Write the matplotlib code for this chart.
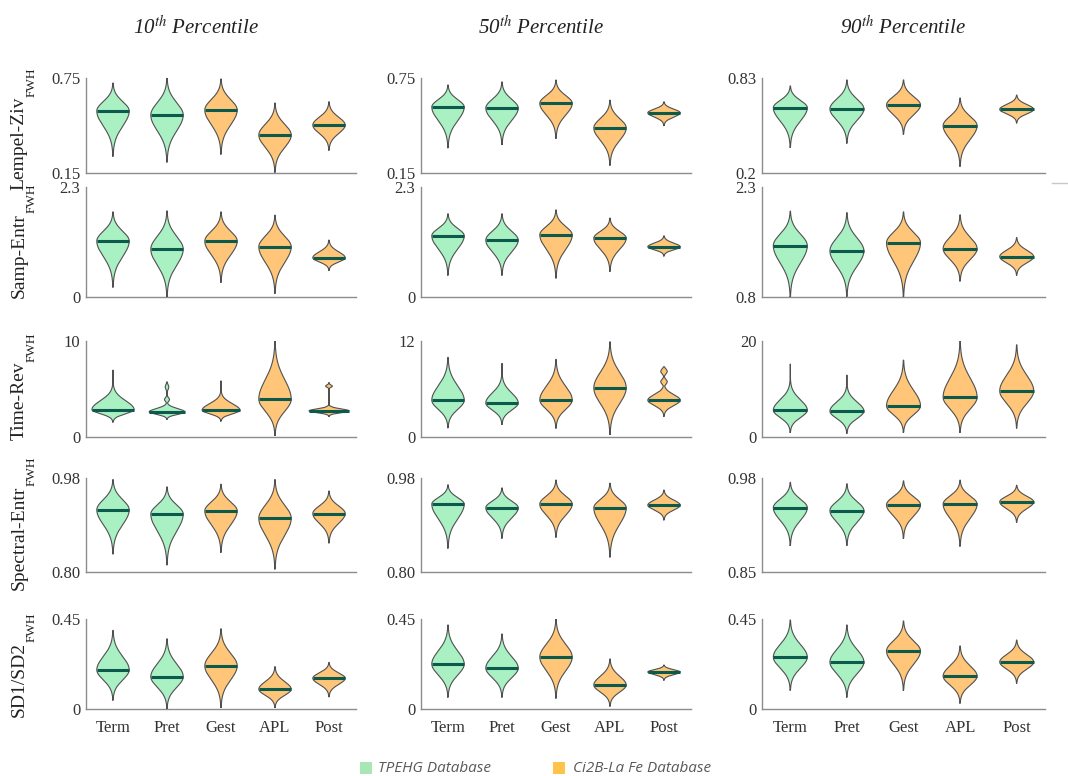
import numpy as np
import matplotlib
matplotlib.use("Agg")
import matplotlib.pyplot as plt
from matplotlib.patches import Rectangle
from matplotlib.lines import Line2D

plt.rcParams['font.family'] = ['Liberation Serif', 'DejaVu Serif']
plt.rcParams['mathtext.fontset'] = 'stix'

groups = ['Term', 'Pret', 'Gest', 'APL', 'Post']
percentiles = ['10', '50', '90']
metrics = ['Lempel-Ziv', 'Samp-Entr', 'Time-Rev', 'Spectral-Entr', 'SD1/SD2']

# y-axis range per metric and percentile (bottom, top), as printed
lz_range = [('0.15', '0.75'), ('0.15', '0.75'), ('0.2', '0.83')]
se_range = [('0', '2.3'), ('0', '2.3'), ('0.8', '2.3')]
tr_range = [('0', '10'), ('0', '12'), ('0', '20')]
spe_range = [('0.80', '0.98'), ('0.80', '0.98'), ('0.85', '0.98')]
sd_range = [('0', '0.45'), ('0', '0.45'), ('0', '0.45')]

# violin extent (min / median / max) per percentile, groups in order
lz_min = [[0.257, 0.22, 0.27, 0.156, 0.295], [0.31, 0.33, 0.37, 0.20, 0.45], [0.372, 0.399, 0.459, 0.246, 0.533]]
lz_med = [[0.542, 0.516, 0.548, 0.39, 0.453], [0.567, 0.56, 0.59, 0.435, 0.53], [0.633, 0.626, 0.651, 0.514, 0.622]]
lz_max = [[0.718, 0.75, 0.744, 0.592, 0.60], [0.706, 0.725, 0.737, 0.61, 0.60], [0.777, 0.817, 0.817, 0.697, 0.717]]

se_min = [[0.21, 0.0, 0.31, 0.08, 0.56], [0.46, 0.46, 0.40, 0.54, 0.86], [0.80, 0.81, 0.80, 1.02, 1.10]]
se_med = [[1.17, 1.00, 1.17, 1.05, 0.82], [1.28, 1.19, 1.30, 1.23, 1.05], [1.50, 1.43, 1.54, 1.46, 1.35]]
se_max = [[1.78, 1.80, 1.78, 1.71, 1.19], [1.74, 1.74, 1.82, 1.65, 1.28], [1.97, 1.95, 1.96, 1.92, 1.61]]

tr_min = [[1.57, 1.85, 1.67, 0.17, 2.16], [1.17, 1.59, 1.13, 0.33, 2.6], [1.0, 0.8, 1.0, 1.0, 1.9]]
tr_med = [[2.86, 2.61, 2.79, 3.94, 2.72], [4.6, 4.26, 4.64, 6.15, 4.6], [5.6, 5.4, 6.5, 8.3, 9.6]]
tr_max = [[6.97, 5.75, 5.85, 10.0, 5.68], [9.95, 9.2, 9.7, 11.9, 8.78], [15.2, 12.9, 16.0, 20.0, 19.2]]

spe_min = [[0.835, 0.814, 0.838, 0.806, 0.856], [0.846, 0.865, 0.867, 0.829, 0.90], [0.887, 0.887, 0.897, 0.886, 0.919]]
spe_med = [[0.919, 0.911, 0.917, 0.903, 0.912], [0.93, 0.923, 0.93, 0.923, 0.928], [0.939, 0.935, 0.943, 0.944, 0.947]]
spe_max = [[0.977, 0.963, 0.968, 0.977, 0.955], [0.967, 0.961, 0.976, 0.97, 0.957], [0.974, 0.972, 0.976, 0.977, 0.970]]

sd_min = [[0.045, 0.003, 0.008, 0.008, 0.062], [0.06, 0.06, 0.055, 0.015, 0.145], [0.095, 0.06, 0.095, 0.03, 0.13]]
sd_med = [[0.196, 0.162, 0.216, 0.099, 0.154], [0.225, 0.205, 0.26, 0.12, 0.185], [0.26, 0.235, 0.29, 0.165, 0.235]]
sd_max = [[0.393, 0.351, 0.401, 0.212, 0.233], [0.42, 0.375, 0.45, 0.25, 0.22], [0.445, 0.42, 0.44, 0.315, 0.345]]

table = [
    (lz_range, lz_min, lz_med, lz_max),
    (se_range, se_min, se_med, se_max),
    (tr_range, tr_min, tr_med, tr_max),
    (spe_range, spe_min, spe_med, spe_max),
    (sd_range, sd_min, sd_med, sd_max),
]

# outline tweaks for the skewed Time-Rev violins: (row, col, group) -> options
shape = {
    (2, 0, 0): dict(width=0.39, k_up=4.5),
    (2, 0, 1): dict(width=0.33, k_up=9, bumps=[(3.9, 0.14, 0.2), (5.2, 0.10, 0.25)]),
    (2, 0, 2): dict(width=0.35, k_up=4.5),
    (2, 0, 4): dict(width=0.37, k_up=14, bumps=[(3.05, 0.2, 0.12), (5.3, 0.17, 0.12)]),
    (2, 1, 1): dict(k_up=4),
    (2, 1, 4): dict(k_up=6, bumps=[(6.9, 0.2, 0.3), (8.2, 0.2, 0.3)]),
    (2, 2, 0): dict(k_up=4.5),
    (2, 2, 1): dict(k_up=4),
}

green = '#a9f0c3'
orange = '#ffc578'
fill_colors = [green, green, orange, orange, orange]
median_color = '#0b5a4c'

W, H = 1068, 776
col_px = [(86, 356), (421, 691), (762, 1045)]
row_px = [(78, 173), (187, 297), (341, 437), (478, 572), (619, 709)]
# bottom end of each rotated row label
label_bottom = [190, 298, 440, 590, 717]


def violin(ax, x, lo, med, hi, color, width=0.3, k_dn=3, k_up=3, bumps=()):
    y = np.linspace(lo, hi, 400)
    s = np.where(y < med, (med - lo) / k_dn, (hi - med) / k_up)
    w = np.exp(-0.5 * ((y - med) / s) ** 2)
    for yb, a, sb in bumps:
        w = np.maximum(w, a * np.exp(-0.5 * ((y - yb) / sb) ** 2))
    w = w * width
    ax.fill_betweenx(y, x - w, x + w, facecolor=color, edgecolor='none', zorder=2)
    ax.plot(np.r_[x - w, (x + w)[::-1], x - w[0]], np.r_[y, y[::-1], y[0]],
            color='#505050', lw=0.8, zorder=3)
    ax.plot([x - width, x + width], [med, med], color=median_color, lw=2.2,
            solid_capstyle='butt', zorder=4)


fig = plt.figure(figsize=(W / 100, H / 100), dpi=100)

for r, (rng, mins, meds, maxs) in enumerate(table):
    y0, y1 = row_px[r]
    for c in range(3):
        x0, x1 = col_px[c]
        ax = fig.add_axes([x0 / W, 1 - y1 / H, (x1 - x0) / W, (y1 - y0) / H])
        for g in range(5):
            opts = shape.get((r, c, g), {})
            violin(ax, g + 1, mins[c][g], meds[c][g], maxs[c][g], fill_colors[g], **opts)
        lo_s, hi_s = rng[c]
        ax.set_ylim(float(lo_s), float(hi_s))
        ax.set_xlim(0.5, 5.5)
        ax.set_yticks([float(lo_s), float(hi_s)])
        ax.set_yticklabels([lo_s, hi_s])
        ax.tick_params(axis='both', length=0, labelsize=12, labelcolor='#333333', pad=4)
        if r == 4:
            ax.set_xticks(range(1, 6))
            ax.set_xticklabels(groups)
            ax.tick_params(axis='x', pad=8)
        else:
            ax.set_xticks([])
        for side in ['top', 'right']:
            ax.spines[side].set_visible(False)
        for side in ['left', 'bottom']:
            ax.spines[side].set_color('#8c8c8c')
            ax.spines[side].set_linewidth(1.0)

# row labels with the FWH subscript set as a separate, smaller text
renderer = fig.canvas.get_renderer()
for r, name in enumerate(metrics):
    t = fig.text(19 / W, 1 - label_bottom[r] / H, name, rotation=90,
                 ha='center', va='bottom', fontsize=14, color='#222222')
    top = t.get_window_extent(renderer).y1
    fig.text(32 / W, top / H, 'FWH', rotation=90, ha='center', va='bottom',
             fontsize=9.5, color='#222222')

title_x = [196, 541, 903]
for c, p in enumerate(percentiles):
    fig.text(title_x[c] / W, 1 - 28 / H, p + r'$^{\it th}$ Percentile',
             ha='center', va='center', fontsize=15, style='italic', color='#222222')

# legend along the bottom edge
for sx, tx, col, label in [(360, 378, '#a8e6b4', 'TPEHG Database'),
                           (553, 573, '#ffc34a', 'Ci2B-La Fe Database')]:
    fig.add_artist(Rectangle((sx / W, 1 - 774 / H), 12 / W, 12 / H,
                             transform=fig.transFigure, facecolor=col, edgecolor='none'))
    fig.text(tx / W, 1 - 768 / H, label, ha='left', va='center', fontsize=11,
             style='italic', family=['Open Sans', 'DejaVu Sans'], color='#595959')

fig.add_artist(Line2D([1052 / W, 1068 / W], [1 - 183 / H, 1 - 183 / H],
                      transform=fig.transFigure, color='#c8c8c8', lw=1))

fig.savefig('out.png', dpi=100)
